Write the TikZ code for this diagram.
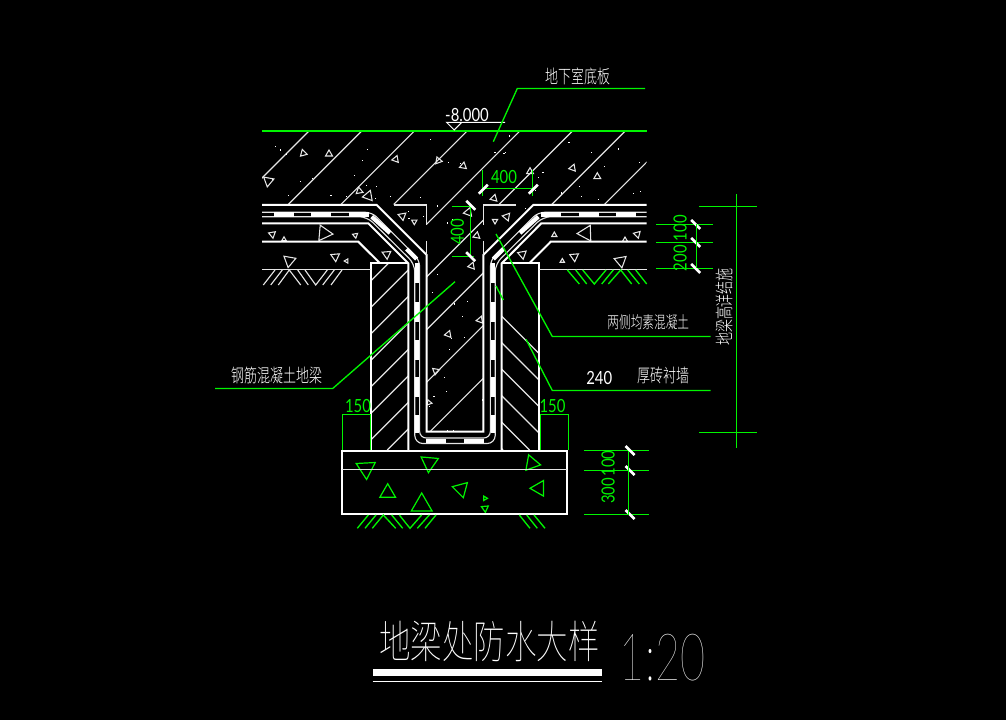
\documentclass[tikz,border=0pt]{standalone}
\usepackage{fontspec}
\newfontfamily\cadcjk[FakeStretch=0.7,UprightFont={* Light}]{Noto Sans CJK SC}
\newfontfamily\cadtitle[FakeStretch=0.7,UprightFont={* Thin}]{Noto Sans CJK SC}
\newfontfamily\cadnum[FakeStretch=0.82]{Lato}
\newfontfamily\cadscale[FakeStretch=0.66,UprightFont={* Thin}]{Lato}
\definecolor{cadgreen}{RGB}{0,245,0}
\tikzset{
    thinline/.style={white!90!black, line width=0.85pt},
    thickline/.style={white, line width=1.5pt},
    barline/.style={white, line width=3.2pt},
    tickmark/.style={white, line width=2pt},
    dimline/.style={cadgreen, line width=1pt},
    grit/.style={white!90!black, line width=0.8pt},
    gritgreen/.style={cadgreen, line width=0.9pt},
    notetext/.style={white, inner sep=0pt, font=\cadcjk\fontsize{13.9}{14}\selectfont},
    dimtext/.style={cadgreen, inner sep=0pt, font=\cadnum\fontsize{13.6}{14}\selectfont},
}
\begin{document}
\begin{tikzpicture}[x=0.75pt,y=-0.75pt]
    \fill[black] (0,0) rectangle (1006,720);
    \useasboundingbox (0,0) rectangle (1006,720);

    % slab and core hatching
    \begin{scope}
        \clip (262,131) -- (646.7,131) -- (646.7,204.5) -- (483.3,204.5) -- (483.3,431) -- (426.7,431) -- (426.7,204.5) -- (262,204.5) -- cycle;
        \foreach \c in {440,492.7,...,880}{
            \draw[thinline] (\c-131,131) -- (\c-431,431);
        }
    \end{scope}

    % brick hatching
    \begin{scope}
        \clip (371,263.3) rectangle (408.3,450);
        \foreach \c in {651.7,678.2,...,840}{
            \draw[thinline] (\c-263,263) -- (\c-450,450);
        }
    \end{scope}
    \begin{scope}
        \clip (501.7,263.3) rectangle (539.3,450);
        \foreach \c in {-240,-213.5,...,-50}{
            \draw[thinline] (\c+503,263) -- (\c+690,450);
        }
    \end{scope}

    % dots of the concrete
    \begin{scope}
        \clip (262,131) -- (646.7,131) -- (646.7,204.5) -- (533.3,204.5) -- (483.3,255) -- (483.3,431) -- (426.7,431) -- (426.7,255) -- (376.7,204.5) -- (262,204.5) -- cycle;
        \pgfmathsetseed{20}
        \foreach \k in {1,...,170}{
            \pgfmathsetmacro\dotx{262+rnd*385}
            \pgfmathsetmacro\doty{131+rnd*300}
            \fill[white] (\dotx,\doty) rectangle +(1.2,1.2);
        }
    \end{scope}

    % grit, white
    \foreach \x/\y/\s/\r in {303.3/153.3/4/15, 329/154/4/-90, 268.3/181/6/-20, 395.7/159.3/4/-70, 463.3/166/4/-80,
        438.3/160.7/4/10, 359.3/191/4/20, 368.3/196/6/-70, 494/198.3/4/165, 402.3/216/4.5/80, 414.3/221.7/3/-30,
        468.3/212.3/5/-70, 476.7/235.7/4/-80, 495/221/3/-30, 471.7/266/4/170, 506.7/216.7/4.5/70, 572.7/168/4/170,
        597.3/176.7/4/-90, 530/171.7/4/-90, 272.3/234.3/4/80, 284/239.3/2.5/-90, 324/233.3/9/5, 355.3/235.3/3/-40,
        386.7/254.3/5/85, 289.3/260.7/7/-20, 335.3/256.7/5/85, 346.7/261/2.5/-60, 554.3/235/3/-90, 586/233.3/9/178,
        637.3/234.3/4/75, 625/240/3/-90, 522.3/254.3/5/80, 574.3/256.7/5/85, 562.3/261/2.5/-90, 620.7/261/7/-160,
        448.3/334.3/4/-70, 435.7/371/4/-20, 480/320/4/170, 429/402.7/3/10}{
        \draw[grit] (\x,\y) +(\r:\s) -- +(\r+120:\s) -- +(\r+240:\s) -- cycle;
    }

    % grit of the footing
    \foreach \x/\y/\s/\r in {366/468.5/11/87, 429.3/462.7/10/95, 531.7/463.3/9/10, 387.7/492.7/9/-90, 421.7/505/12/-90,
        461/489/9/75, 539/488.3/9/180, 485/498.3/2.5/0, 485/508.3/4/85}{
        \draw[gritgreen] (\x,\y) +(\r:\s) -- +(\r+120:\s) -- +(\r+240:\s) -- cycle;
    }

    % waterproof band
    \draw[thinline, rounded corners=5pt] (262,212.3) -- (372,212.3) -- (419.6,260) -- (419.6,438) -- (490.4,438) -- (490.4,260) -- (538,212.3) -- (646.7,212.3);
    \draw[thinline, rounded corners=6pt] (262,216.7) -- (367,216.7) -- (414.8,264) -- (414.8,443.5) -- (495.2,443.5) -- (495.2,264) -- (543,216.7) -- (646.7,216.7);
    \foreach \a/\b in {274/294, 311/331, 349/369, 541/561, 579/599, 616/636}{
        \draw[barline] (\a,214.5) -- (\b,214.5);
    }
    \foreach \a/\b in {263/283, 302/322, 340/360, 377/397, 415/433}{
        \draw[barline] (417.2,\a) -- (417.2,\b);
        \draw[barline] (492.8,\a) -- (492.8,\b);
    }
    \draw[barline] (426,440.7) -- (446,440.7);
    \draw[barline] (464,440.7) -- (484,440.7);
    \draw[barline] (371.7,216.7) -- (390,233);
    \draw[barline] (406.7,249) -- (416.7,259);
    \draw[barline] (538.3,216.7) -- (520,233);
    \draw[barline] (503.3,249) -- (493.3,259);

    % slab outline
    \draw[thickline] (262,205) -- (376.7,205) -- (426.7,255) -- (426.7,431.7) -- (483.3,431.7) -- (483.3,255) -- (533.3,205) -- (646.7,205);
    \draw[thinline] (394,205) -- (426.7,205) -- (426.7,225);
    \draw[thinline] (516,205) -- (483.3,205) -- (483.3,225);
    \draw[thinline] (426.7,241) -- (426.7,255);
    \draw[thinline] (483.3,241) -- (483.3,255);

    % layers and brick wall
    \draw[thickline] (262,223.3) -- (368.3,223.3) -- (408.3,263.3) -- (408.3,450);
    \draw[thickline] (646.7,223.3) -- (541.3,223.3) -- (501.7,263.3) -- (501.7,450);
    \draw[thickline] (262,241.7) -- (358.3,241.7) -- (380,263.3);
    \draw[thickline] (646.7,241.7) -- (550.7,241.7) -- (529.3,263.3);
    \draw[thickline] (371,450) -- (371,263.3) -- (408.3,263.3);
    \draw[thickline] (539.3,450) -- (539.3,263.3) -- (501.7,263.3);
    \draw[thinline] (262,269.5) -- (371,269.5);
    \draw[thinline] (539.3,269.5) -- (646.7,269.5);

    % footing
    \draw[thickline] (342.4,450.6) rectangle (567.4,514.2);
    \draw[thinline] (342.4,469.5) -- (567.4,469.5);

    % earth
    \foreach \p in {{(263.3,285) -- (275,270)}, {(270.7,285) -- (282.3,270)}, {(278.3,285) -- (289.3,270) -- (300.7,285)},
        {(297.7,270) -- (308.3,285)}, {(305,270) -- (315.7,285) -- (327.3,270)}, {(322.7,285) -- (334.3,270)}, {(331,285) -- (342,270)}}{
        \draw[thinline] \p;
    }
    \foreach \p in {{(567.3,270) -- (579.3,284)}, {(575.7,270) -- (586.7,284)}, {(582.7,270) -- (594.3,284) -- (606,270)},
        {(601.7,284) -- (613.3,270)}, {(608.3,284) -- (620.7,270) -- (631.7,284)}, {(627.7,270) -- (639.3,284)}, {(635.7,270) -- (646.7,284)},
        {(357.3,528.3) -- (368.3,515)}, {(365,528.3) -- (376,515)}, {(372.3,528.3) -- (383.3,515) -- (395.7,528.3)},
        {(391.7,515) -- (402.7,528.3)}, {(399.3,515) -- (410,528.3) -- (421.7,515)}, {(417.3,528.3) -- (429.3,515)}, {(425,528.3) -- (436,515)},
        {(519.3,515) -- (530,528.3)}, {(526.7,515) -- (537.3,528.3)}, {(534,515) -- (545,528.3)}}{
        \draw[dimline] \p;
    }

    % level mark
    \draw[cadgreen, line width=1.5pt] (262,130.8) -- (646.7,130.8);
    \draw[white, line width=0.75pt] (505,122.5) -- (446.7,122.5) -- (454.2,130) -- (461.7,122.5);
    \node[dimtext, white] (level) at (467,115) {-8.000};

    % leaders
    \draw[dimline] (645,88.5) -- (517.3,88.5) -- (493.3,141.7);
    \node[notetext] (slabnote) at (578,76) {地下室底板};
    \draw[dimline] (215,388.5) -- (332.7,388.5) -- (455,281.7);
    \node[notetext] (beamnote) at (276.7,375) {钢筋混凝土地梁};
    \draw[dimline] (710.7,336.5) -- (552.3,336.5) -- (496,234);
    \node[notetext, font=\cadcjk\fontsize{12.5}{13}\selectfont] (sidenote) at (648.3,322.3) {两侧均素混凝土};
    \draw[dimline] (710.7,390.5) -- (552.3,390.5) -- (526,339.3);
    \draw[dimline] (496,286) -- (503.3,300);
    \node[dimtext, white] (brickwidth) at (599.3,378) {240};
    \node[notetext] (bricknote) at (663.3,375) {厚砖衬墙};

    % dimension 400, top
    \draw[dimline] (482.5,170) -- (482.5,196);
    \draw[dimline] (532.5,170) -- (532.5,196);
    \draw[dimline] (482.5,188.5) -- (532.5,188.5);
    \draw[tickmark] (478.8,193.8) -- (487.8,184.8);
    \draw[tickmark] (528.8,193.8) -- (537.8,184.8);
    \node[dimtext] (dimtop) at (504,176.7) {400};

    % dimension 400, upright
    \draw[dimline] (451.7,206.5) -- (474,206.5);
    \draw[dimline] (451.7,256.5) -- (474,256.5);
    \draw[dimline] (470.5,206.5) -- (470.5,256.5);
    \draw[tickmark] (466.2,200.8) -- (475.2,209.8);
    \draw[tickmark] (466.2,252.2) -- (475.2,261.2);
    \node[dimtext, rotate=90] (dimcore) at (457.3,232) {400};

    % dimensions on the right
    \foreach \y in {224.5,242.5,268.5}{
        \draw[dimline] (656,\y) -- (713.3,\y);
        \draw[tickmark] (691.2,\y-4.5) -- (700.2,\y+4.5);
    }
    \draw[dimline] (696.5,224.5) -- (696.5,268.5);
    \node[dimtext, rotate=90] (dimhundred) at (680,228.3) {100};
    \node[dimtext, rotate=90] (dimtwohundred) at (680,258.3) {200};

    % axis with note
    \draw[dimline] (736.5,194.3) -- (736.5,448.3);
    \draw[dimline] (699,206.5) -- (756.7,206.5);
    \draw[dimline] (699,432.5) -- (756.7,432.5);
    \node[notetext, rotate=90] (axisnote) at (724,307) {地梁高详结施};

    % dimensions of the footing
    \foreach \y in {450.5,470.5,514.5}{
        \draw[dimline] (584,\y) -- (649,\y);
        \draw[tickmark] (625.5,\y-4.5) -- (634.5,\y+4.5);
    }
    \draw[dimline] (628.5,450.5) -- (628.5,514.5);
    \node[dimtext, rotate=90] (dimfootone) at (608,463.5) {100};
    \node[dimtext, rotate=90] (dimfoottwo) at (608,491) {300};

    % dimensions 150
    \draw[dimline] (342.5,450) -- (342.5,414.5) -- (370.5,414.5) -- (370.5,450);
    \draw[dimline] (540.5,450) -- (540.5,414.5) -- (568.5,414.5) -- (568.5,450);
    \node[dimtext] (dimleft) at (358,406) {150};
    \node[dimtext] (dimright) at (552.5,406) {150};

    % title
    \node[white, inner sep=0pt, font=\cadtitle\fontsize{33.7}{34}\selectfont] (title) at (489.5,641) {地梁处防水大样};
    \fill[white] (372.7,669) rectangle (601.7,676);
    \draw[white, line width=0.75pt] (372.7,681) -- (601.7,681);
    \node[white, inner sep=0pt, font=\cadscale\fontsize{49}{49}\selectfont] (scale) at (662.5,657.5) {1:20};
\end{tikzpicture}
\end{document}
